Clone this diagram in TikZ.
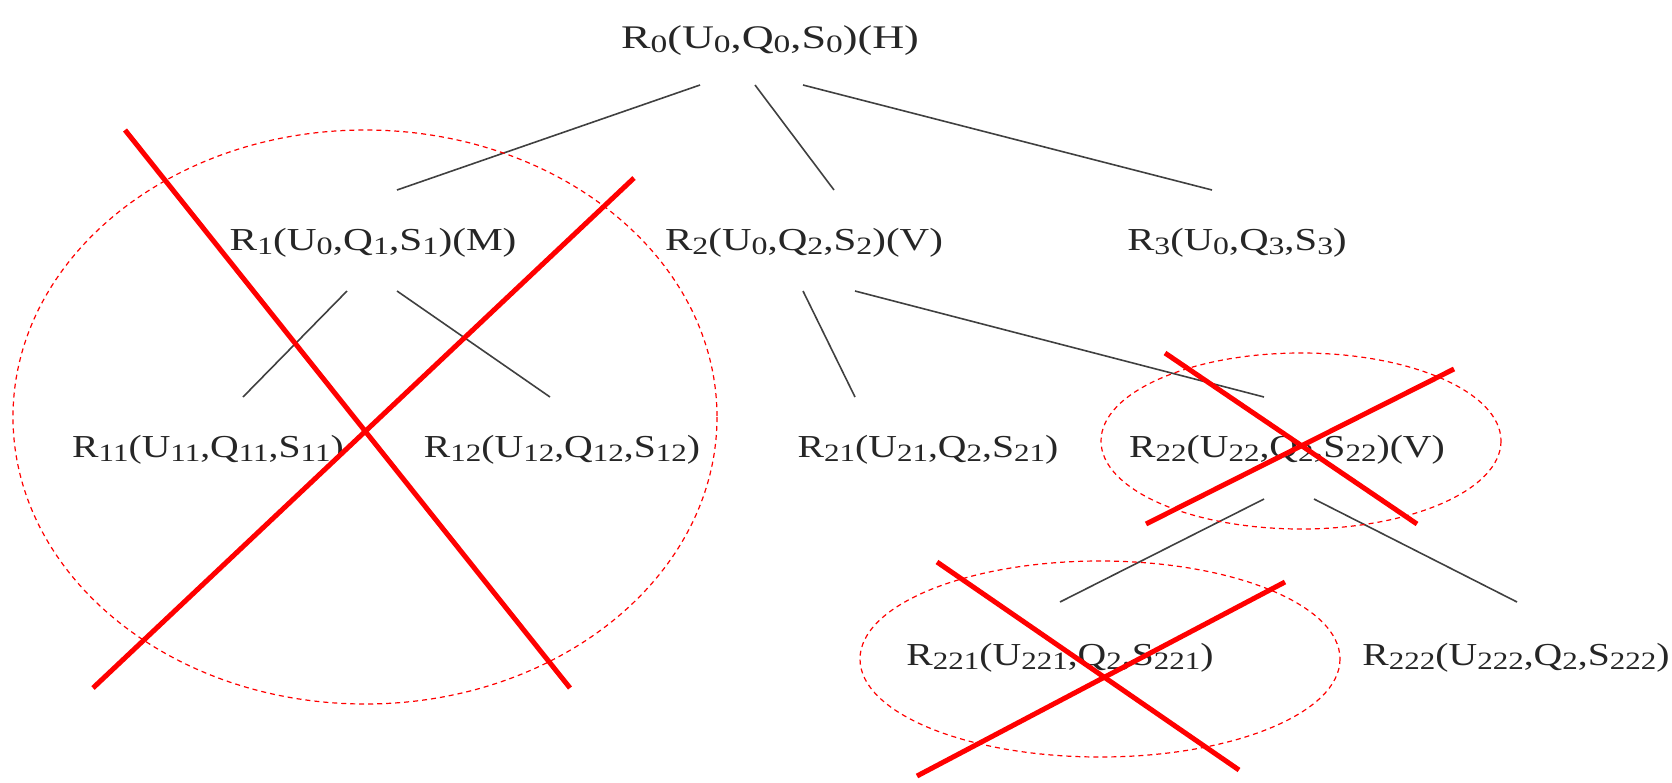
\documentclass[tikz,border=0pt]{standalone}
\usepackage{fontspec}
\setmainfont{Liberation Serif}
\usetikzlibrary{calc}
\newcommand{\lowsub}[1]{\raisebox{-4pt}{\fontsize{25}{25}\selectfont #1}}
\newcommand{\wide}[2][1.24]{\scalebox{#1}[1]{#2}}
\begin{document}
\begin{tikzpicture}[x=1pt,y=-1pt,
  lbl/.style={font=\fontsize{32}{32}\selectfont, inner sep=0pt, anchor=base, text=black!85},
  edge/.style={draw=black!75, line width=1.6pt},
  ring/.style={draw=red, line width=1.2pt, dash pattern=on 5pt off 4pt},
  cross/.style={draw=red, line width=5pt}]
\useasboundingbox (0,0) rectangle (1672,782);
% nodes
\node[lbl, font=\fontsize{33}{33}\selectfont] (r0) at (770,48) {\wide[1.34]{R\lowsub{0}(U\lowsub{0},Q\lowsub{0},S\lowsub{0})(H)}};
\node[lbl] (r1) at (373,250) {\wide[1.29]{R\lowsub{1}(U\lowsub{0},Q\lowsub{1},S\lowsub{1})(M)}};
\node[lbl] (r2) at (804,250) {\wide[1.28]{R\lowsub{2}(U\lowsub{0},Q\lowsub{2},S\lowsub{2})(V)}};
\node[lbl] (r3) at (1237,250) {\wide[1.27]{R\lowsub{3}(U\lowsub{0},Q\lowsub{3},S\lowsub{3})}};
\node[lbl] (r11) at (208,457) {\wide{R\lowsub{11}(U\lowsub{11},Q\lowsub{11},S\lowsub{11})}};
\node[lbl] (r12) at (562,457) {\wide{R\lowsub{12}(U\lowsub{12},Q\lowsub{12},S\lowsub{12})}};
\node[lbl] (r21) at (928,457) {\wide{R\lowsub{21}(U\lowsub{21},Q\lowsub{2},S\lowsub{21})}};
\node[lbl] (r22) at (1287,457) {\wide{R\lowsub{22}(U\lowsub{22},Q\lowsub{2},S\lowsub{22})(V)}};
\node[lbl] (r221) at (1060,665) {\wide{R\lowsub{221}(U\lowsub{221},Q\lowsub{2},S\lowsub{221})}};
\node[lbl] (r222) at (1516,665) {\wide{R\lowsub{222}(U\lowsub{222},Q\lowsub{2},S\lowsub{222})}};
% edges
\draw[edge] ($(r0.base)+(-70,37)$) -- ($(r1.base)+(24,-60)$);
\draw[edge] ($(r0.base)+(-15,37)$) -- ($(r2.base)+(30,-60)$);
\draw[edge] ($(r0.base)+(33,37)$) -- ($(r3.base)+(-25,-60)$);
\draw[edge] ($(r1.base)+(-26,41)$) -- ($(r11.base)+(35,-60)$);
\draw[edge] ($(r1.base)+(24,41)$) -- ($(r12.base)+(-12,-60)$);
\draw[edge] ($(r2.base)+(-1,41)$) -- ($(r21.base)+(-73,-60)$);
\draw[edge] ($(r2.base)+(51,41)$) -- ($(r22.base)+(-23,-60)$);
\draw[edge] ($(r22.base)+(-23,42)$) -- ($(r221.base)+(0,-63)$);
\draw[edge] ($(r22.base)+(27,42)$) -- ($(r222.base)+(1,-63)$);
% dashed rings
\draw[ring] (365,417) ellipse [x radius=352, y radius=287];
\draw[ring] (1301,441) ellipse [x radius=200, y radius=88];
\draw[ring] (1100,659) ellipse [x radius=240, y radius=98];
% crosses
\draw[cross] (125,130) -- (570,688);
\draw[cross] (634,178) -- (93,688);
\draw[cross] (1165,353) -- (1417,524);
\draw[cross] (1454,369) -- (1146,524);
\draw[cross] (937,562) -- (1239,770);
\draw[cross] (1285,582) -- (917,776);
\end{tikzpicture}
\end{document}
